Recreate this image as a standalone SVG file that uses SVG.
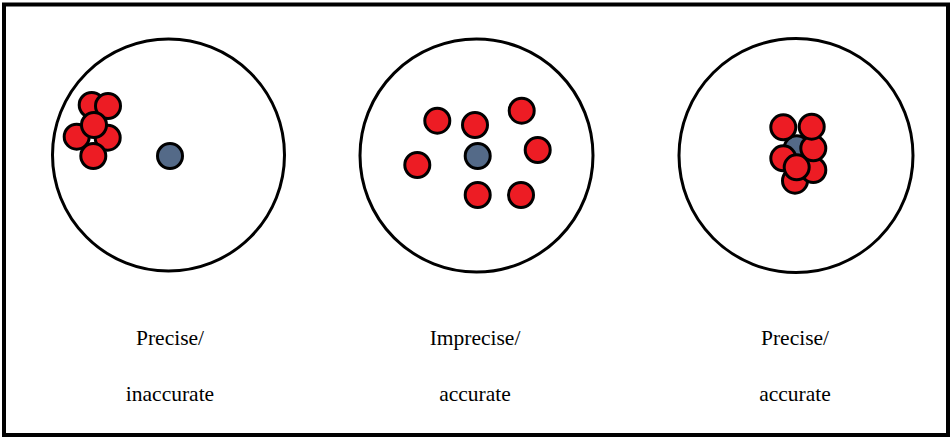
<svg xmlns="http://www.w3.org/2000/svg" width="950" height="439" viewBox="0 0 950 439">
<style>
.frame{fill:#fff;stroke:#000;stroke-width:4}
.target{fill:#fff;stroke:#000;stroke-width:3}
.hit{fill:#ED1C24;stroke:#000;stroke-width:3}
.bull{fill:#546A88;stroke:#000;stroke-width:3}
.lbl{font-family:"Liberation Serif","Times New Roman",serif;font-size:21.5px;fill:#000;text-anchor:middle}
</style>
<rect class="frame" x="4" y="4.5" width="944" height="430.5"/>
<g id="precise-inaccurate">
<circle class="target" cx="168.5" cy="155" r="116"/>
<circle class="bull" cx="170" cy="156" r="12.5"/>
<circle class="hit" cx="91.7" cy="105" r="12.5"/>
<circle class="hit" cx="108" cy="106" r="12.5"/>
<circle class="hit" cx="76.7" cy="136.7" r="12.5"/>
<circle class="hit" cx="107.7" cy="137.7" r="12.5"/>
<circle class="hit" cx="93.3" cy="156" r="12.5"/>
<circle class="hit" cx="94" cy="125" r="12.5"/>
<text class="lbl" x="170" y="345">Precise/</text>
<text class="lbl" x="170" y="401">inaccurate</text>
</g>
<g id="imprecise-accurate">
<circle class="target" cx="476.5" cy="155.5" r="116.5"/>
<circle class="bull" cx="477.7" cy="156" r="12.5"/>
<circle class="hit" cx="437.3" cy="120.7" r="12.5"/>
<circle class="hit" cx="475" cy="125" r="12.5"/>
<circle class="hit" cx="521.7" cy="110.7" r="12.5"/>
<circle class="hit" cx="537.7" cy="150" r="12.5"/>
<circle class="hit" cx="417.3" cy="165" r="12.5"/>
<circle class="hit" cx="477.7" cy="195" r="12.5"/>
<circle class="hit" cx="521" cy="195" r="12.5"/>
<text class="lbl" x="475" y="345">Imprecise/</text>
<text class="lbl" x="475" y="401">accurate</text>
</g>
<g id="precise-accurate">
<circle class="target" cx="796" cy="155.5" r="117"/>
<circle class="bull" cx="796.7" cy="148.3" r="12.5"/>
<circle class="hit" cx="795" cy="180.7" r="12.5"/>
<circle class="hit" cx="813.3" cy="170" r="12.5"/>
<circle class="hit" cx="783.3" cy="158.3" r="12.5"/>
<circle class="hit" cx="813.3" cy="148.3" r="12.5"/>
<circle class="hit" cx="783.3" cy="127.3" r="12.5"/>
<circle class="hit" cx="811.7" cy="126.7" r="12.5"/>
<circle class="hit" cx="796.7" cy="167.3" r="12.5"/>
<text class="lbl" x="795" y="345">Precise/</text>
<text class="lbl" x="795" y="401">accurate</text>
</g>
</svg>
